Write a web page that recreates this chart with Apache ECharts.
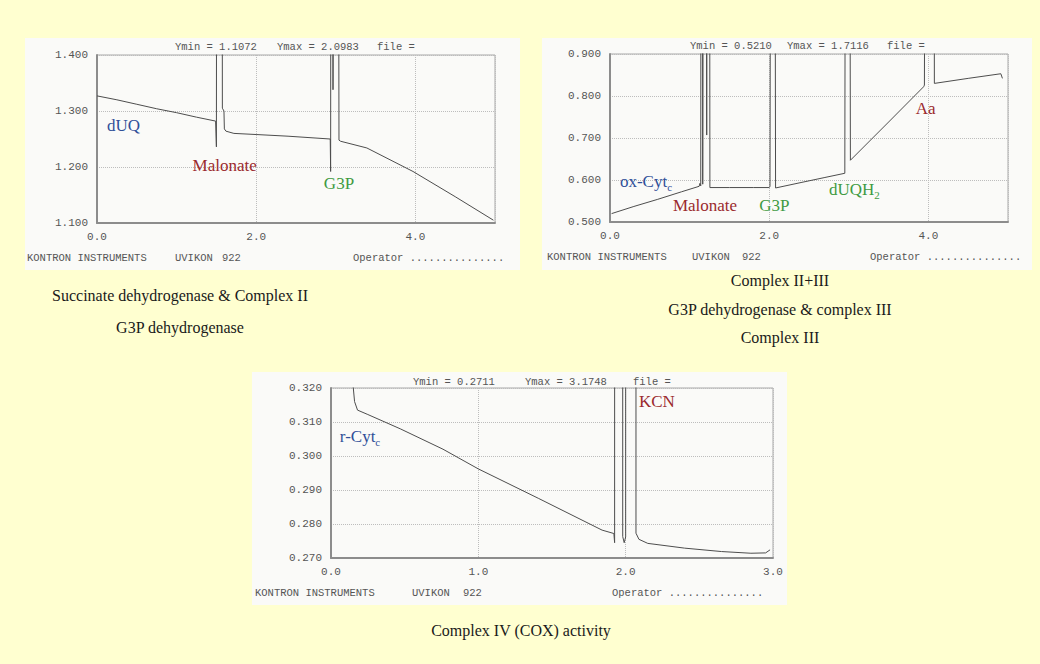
<!DOCTYPE html>
<html><head><meta charset="utf-8">
<script src="https://cdn.jsdelivr.net/npm/echarts@6/dist/echarts.min.js"></script>
<style>html,body{margin:0;padding:0;background:#ffffd0;}#c{width:1040px;height:664px;}</style>
</head><body><div id="c"></div>
<script>
// ---------- Data (time in min, absorbance) ----------
// Panel 1: Succinate dehydrogenase & Complex II / G3P dehydrogenase
const p1Time = [0.00, 0.25, 0.50, 0.75, 1.00, 1.25, 1.49, 1.50, 1.505, 1.57, 1.575, 1.595, 1.60, 1.62, 1.72, 2.00, 2.40, 2.93, 2.935, 2.94, 2.96, 2.965, 2.975, 3.03, 3.04, 3.06, 3.39, 3.97, 4.50, 4.98];
const p1Abs  = [1.327, 1.320, 1.312, 1.304, 1.297, 1.289, 1.282, 1.236, 2.0983, 2.0983, 1.305, 1.300, 1.268, 1.264, 1.260, 1.258, 1.255, 1.250, 1.192, 2.0983, 2.0983, 1.338, 2.0983, 2.0983, 1.248, 1.246, 1.234, 1.192, 1.147, 1.105];
const p1Header = ['Ymin = 1.1072', 'Ymax = 2.0983', 'file ='];

// Panel 2: Complex II+III / G3P dehydrogenase & complex III / Complex III
const p2Time = [0.02, 0.30, 0.60, 0.90, 1.12, 1.13, 1.14, 1.145, 1.16, 1.165, 1.175, 1.21, 1.215, 1.22, 1.25, 1.255, 1.50, 1.80, 2.00, 2.01, 2.02, 2.07, 2.08, 2.40, 2.70, 2.95, 2.96, 3.01, 3.02, 3.50, 3.94, 3.95, 3.96, 4.07, 4.075, 4.50, 4.91, 4.93];
const p2Abs  = [0.520, 0.537, 0.554, 0.572, 0.585, 0.592, 0.586, 1.7116, 1.7116, 0.590, 1.7116, 1.7116, 0.707, 1.7116, 1.7116, 0.582, 0.582, 0.582, 0.582, 0.585, 1.7116, 1.7116, 0.581, 0.594, 0.606, 0.616, 1.7116, 1.7116, 0.647, 0.738, 0.822, 0.826, 1.7116, 1.7116, 0.830, 0.842, 0.853, 0.842];
const p2Header = ['Ymin = 0.5210', 'Ymax = 1.7116', 'file ='];

// Panel 3: Complex IV (COX) activity
const p3Time = [0.145, 0.16, 0.18, 0.25, 0.47, 0.76, 1.00, 1.41, 1.84, 1.92, 1.925, 1.93, 1.975, 1.98, 1.99, 2.00, 2.005, 2.065, 2.07, 2.09, 2.15, 2.40, 2.65, 2.85, 2.95, 2.98];
const p3Abs  = [0.3230, 0.3160, 0.3135, 0.3122, 0.3080, 0.3020, 0.2962, 0.2875, 0.2782, 0.2772, 0.2745, 3.1748, 3.1748, 0.2763, 0.2745, 0.2762, 3.1748, 3.1748, 0.2773, 0.2755, 0.2743, 0.2729, 0.2719, 0.2714, 0.2715, 0.2724];
const p3Header = ['Ymin = 0.2711', 'Ymax = 3.1748', 'file ='];

const footer = ['KONTRON INSTRUMENTS', 'UVIKON', '922', 'Operator ...............'];
const captions1 = ['Succinate dehydrogenase & Complex II', 'G3P dehydrogenase'];
const captions2 = ['Complex II+III', 'G3P dehydrogenase & complex III', 'Complex III'];
const captions3 = ['Complex IV (COX) activity'];

// ---------- Styling ----------
const BLUE = '#2f4f98', RED = '#9a2a2e', GREEN = '#3f9a42';
const MONO = '"Liberation Mono", "DejaVu Sans Mono", monospace';
const SERIF = '"Liberation Serif", "DejaVu Serif", serif';
const zip = (a, b) => a.map((v, i) => [v, b[i]]);

const grids = [
  {left: 97, top: 55, width: 398, height: 168},
  {left: 610, top: 54, width: 398, height: 168},
  {left: 331, top: 388, width: 442, height: 170}
];
const axisFont = {fontFamily: MONO, fontSize: 11, color: '#555'};

function xAx(i, max, interval) {
  return {
    type: 'value', gridIndex: i, min: 0, max: max, interval: interval,
    axisLine: {show: true, lineStyle: {color: '#8c8c8c', width: 2}},
    axisTick: {show: false},
    axisLabel: Object.assign({margin: 8, showMaxLabel: max % interval === 0, formatter: v => v.toFixed(1)}, axisFont),
    splitLine: {show: true, lineStyle: {type: 'dotted', color: '#bdbdbd'}}
  };
}
function yAx(i, min, max, interval) {
  return {
    type: 'value', gridIndex: i, min: min, max: max, interval: interval,
    axisLine: {show: true, lineStyle: {color: '#8c8c8c', width: 2}},
    axisTick: {show: false},
    axisLabel: Object.assign({margin: 9, formatter: v => v.toFixed(3)}, axisFont),
    splitLine: {show: true, lineStyle: {type: 'dotted', color: '#bdbdbd'}}
  };
}
const richLbl = {
  m: {fontFamily: SERIF, fontSize: 17, lineHeight: 22},
  sub: {fontFamily: SERIF, fontSize: 11, lineHeight: 10, verticalAlign: 'bottom'}
};
function mark(list) {
  return {
    symbol: 'circle', symbolSize: 0, silent: true, animation: false,
    label: {show: true, position: 'inside', align: 'left', verticalAlign: 'middle', fontFamily: SERIF, fontSize: 17, rich: richLbl},
    data: list.map(d => ({coord: d.c, name: d.t, label: {formatter: d.f, color: d.col, rich: {
      m: Object.assign({color: d.col}, richLbl.m), sub: Object.assign({color: d.col}, richLbl.sub)}}}))
  };
}
function line(i, data, marks) {
  return {
    type: 'line', xAxisIndex: i, yAxisIndex: i, data: data, showSymbol: false, symbol: 'none',
    clip: true, animation: false, silent: true,
    lineStyle: {color: '#4d4d4d', width: 1},
    markPoint: mark(marks)
  };
}

const graphics = [];
function rect(x, y, w, h) { graphics.push({type: 'rect', z: -10, shape: {x, y, width: w, height: h}, style: {fill: '#fafaf8'}}); }
function txt(t, x, y, font, align, fill) {
  graphics.push({type: 'text', z: 50, x: x, y: y, style: {text: t, font: font, fill: fill || '#555', align: align || 'left', verticalAlign: 'middle'}});
}
rect(25, 38, 495, 232);
rect(542, 38, 490, 232);
rect(252, 372, 535, 233);

const hFont = '10.5px ' + MONO;
// headers
[[p1Header, [175, 277, 377], 47], [p2Header, [690, 787, 887], 46], [p3Header, [413, 525, 633], 382]].forEach(([h, xs, y]) => {
  h.forEach((t, k) => txt(t, xs[k], y, hFont));
});
// footers
[[[27, 175, 222, 353], 258], [[547, 692, 742, 870], 257], [[255, 412, 463, 612], 593]].forEach(([xs, y]) => {
  footer.forEach((t, k) => txt(t, xs[k], y, hFont));
});
// captions
const capFont = '16px ' + SERIF;
captions1.forEach((t, k) => txt(t, 180, [295, 327][k], capFont, 'center', '#1a1a1a'));
captions2.forEach((t, k) => txt(t, 780, [280, 309, 337][k], capFont, 'center', '#1a1a1a'));
captions3.forEach((t, k) => txt(t, 521, 630, capFont, 'center', '#1a1a1a'));

const chart = echarts.init(document.getElementById('c'), null, {renderer: 'svg'});
chart.setOption({
  backgroundColor: '#ffffd0',
  animation: false,
  grid: grids.map(g => Object.assign({show: true, borderColor: '#a8a8a8', borderWidth: 1, backgroundColor: 'transparent', containLabel: false}, g)),
  xAxis: [xAx(0, 5, 2), xAx(1, 5, 2), xAx(2, 3, 1)],
  yAxis: [yAx(0, 1.1, 1.4, 0.1), yAx(1, 0.5, 0.9, 0.1), yAx(2, 0.27, 0.32, 0.01)],
  series: [
    line(0, zip(p1Time, p1Abs), [
      {c: [0.125, 1.275], f: '{m|dUQ}', col: BLUE},
      {c: [1.20, 1.202], f: '{m|Malonate}', col: RED},
      {c: [2.85, 1.171], f: '{m|G3P}', col: GREEN}
    ]),
    line(1, zip(p2Time, p2Abs), [
      {c: [0.125, 0.597], f: '{m|ox-Cyt}{sub|c}', col: BLUE},
      {c: [0.79, 0.540], f: '{m|Malonate}', col: RED},
      {c: [1.875, 0.540], f: '{m|G3P}', col: GREEN},
      {c: [2.75, 0.578], f: '{m|dUQH}{sub|2}', col: GREEN},
      {c: [3.84, 0.771], f: '{m|Aa}', col: RED}
    ]),
    line(2, zip(p3Time, p3Abs), [
      {c: [0.06, 0.3057], f: '{m|r-Cyt}{sub|c}', col: BLUE},
      {c: [2.09, 0.3160], f: '{m|KCN}', col: RED}
    ])
  ],
  graphic: graphics
});
</script></body></html>
